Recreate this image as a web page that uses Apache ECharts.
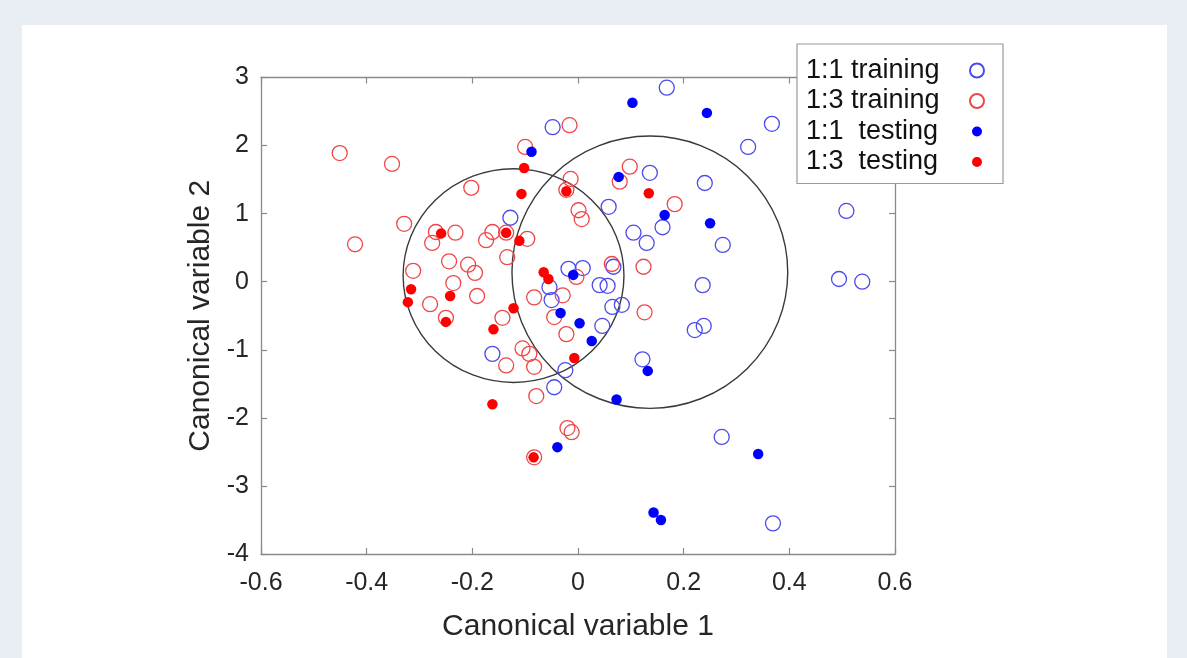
<!DOCTYPE html>
<html>
<head>
<meta charset="utf-8">
<script src="https://cdn.jsdelivr.net/npm/echarts@6/dist/echarts.min.js"></script>
<style>
  html, body { margin: 0; padding: 0; width: 1187px; height: 658px; overflow: hidden; background: #e8eef4; }
  #card { position: absolute; left: 22px; top: 25px; width: 1145px; height: 640px; background: #ffffff; }
  #chart { position: absolute; left: 0; top: 0; width: 1187px; height: 658px; }
</style>
</head>
<body>
<div id="card"></div>
<div id="chart"></div>
<script>
// ---- data (Canonical variable 1, Canonical variable 2) ----
const seriesNames = ['1:1 training', '1:3 training', '1:1  testing', '1:3  testing'];

const train11 = [
  [0.168, 2.85], [-0.048, 2.27], [0.367, 2.32], [0.322, 1.98], [0.136, 1.60],
  [0.058, 1.10], [0.240, 1.45], [0.105, 0.72], [0.130, 0.57], [0.160, 0.80],
  [0.274, 0.54], [-0.128, 0.94], [0.508, 1.04], [0.494, 0.04], [0.538, 0.00],
  [0.236, -0.05], [-0.018, 0.19], [0.009, 0.20], [0.067, 0.22], [0.041, -0.05],
  [0.056, -0.06], [-0.054, -0.08], [-0.050, -0.27], [0.065, -0.37], [0.083, -0.34],
  [0.046, -0.65], [0.221, -0.71], [0.238, -0.65], [0.122, -1.14], [-0.162, -1.06],
  [-0.024, -1.30], [-0.045, -1.55], [0.272, -2.28], [0.369, -3.55]
];

const train13 = [
  [-0.451, 1.89], [-0.352, 1.73], [-0.202, 1.38], [-0.329, 0.85], [-0.422, 0.55],
  [-0.269, 0.73], [-0.232, 0.72], [-0.276, 0.57], [-0.174, 0.61], [-0.162, 0.73],
  [-0.136, 0.72], [-0.096, 0.63], [-0.134, 0.36], [-0.312, 0.16], [-0.244, 0.30],
  [-0.208, 0.25], [-0.195, 0.13], [-0.236, -0.02], [-0.191, -0.21], [-0.280, -0.33],
  [-0.250, -0.53], [-0.143, -0.53], [-0.136, -1.23], [-0.105, -0.98], [-0.092, -1.06],
  [-0.083, -1.25], [-0.079, -1.68], [-0.100, 1.98], [-0.016, 2.30], [-0.014, 1.51],
  [-0.022, 1.35], [0.098, 1.69], [0.079, 1.47], [0.001, 1.05], [0.007, 0.92],
  [0.183, 1.14], [0.064, 0.26], [0.124, 0.22], [-0.029, -0.20], [-0.083, -0.23],
  [-0.003, 0.07], [-0.045, -0.52], [-0.022, -0.77], [0.126, -0.45], [-0.020, -2.15],
  [-0.012, -2.21], [-0.083, -2.58]
];

const test11 = [
  [0.103, 2.63], [0.244, 2.48], [-0.088, 1.91], [0.077, 1.54], [0.164, 0.98],
  [0.250, 0.86], [-0.009, 0.10], [-0.033, -0.46], [0.003, -0.61], [0.026, -0.87],
  [0.073, -1.73], [0.132, -1.31], [-0.039, -2.43], [0.341, -2.53], [0.143, -3.39],
  [0.157, -3.50]
];

const test13 = [
  [-0.102, 1.67], [-0.107, 1.29], [-0.259, 0.71], [-0.136, 0.72], [-0.111, 0.60],
  [0.134, 1.30], [-0.022, 1.33], [-0.065, 0.14], [-0.056, 0.04], [-0.316, -0.11],
  [-0.322, -0.30], [-0.242, -0.21], [-0.250, -0.59], [-0.122, -0.39], [-0.160, -0.70],
  [-0.007, -1.12], [-0.162, -1.80], [-0.084, -2.58]
];

// class circles: [centerX, centerY, radiusX, radiusY] in data units
const classCircles = [
  [-0.122, 0.09, 0.209, 1.57],
  [0.136, 0.14, 0.261, 2.00]
];

const xTicks = [-0.6, -0.4, -0.2, 0, 0.2, 0.4, 0.6];
const yTicks = [-4, -3, -2, -1, 0, 1, 2, 3];

// ---- styling ----
const FONT = "'Liberation Sans', Arial, sans-serif";
const AXIS_COLOR = '#8a8a8a';
const TEXT_COLOR = '#262626';
const BLUE_RING = '#4b4bee';
const RED_RING = '#ee4747';
const BLUE = '#0000ff';
const RED = '#ff0000';

const smallDot = 'path://M0,0M14,14M12,7A5,5,0,1,1,2,7A5,5,0,1,1,12,7Z';

function fmt(v) { return String(+v.toFixed(2)); }

const chart = echarts.init(document.getElementById('chart'), null, { renderer: 'canvas' });

const xBase = {
  min: xTicks[0], max: xTicks[xTicks.length - 1], interval: 0.2,
  splitLine: { show: false },
  axisLine: { show: true, onZero: false, lineStyle: { color: AXIS_COLOR, width: 1.3 } },
  axisTick: { show: true, inside: true, length: 6, lineStyle: { color: AXIS_COLOR, width: 1.2 } }
};
const yBase = {
  min: yTicks[0], max: yTicks[yTicks.length - 1], interval: 1,
  splitLine: { show: false },
  axisLine: { show: true, onZero: false, lineStyle: { color: AXIS_COLOR, width: 1.3 } },
  axisTick: { show: true, inside: true, length: 6, lineStyle: { color: AXIS_COLOR, width: 1.2 } }
};

const option = {
  backgroundColor: 'transparent',
  animation: false,
  textStyle: { fontFamily: FONT },
  grid: { left: 261, top: 77.5, right: 292, bottom: 104, containLabel: false },
  xAxis: [
    Object.assign({}, xBase, {
      type: 'value', position: 'bottom',
      name: 'Canonical variable 1', nameLocation: 'middle', nameGap: 58,
      nameTextStyle: { fontSize: 30, color: TEXT_COLOR, fontFamily: FONT },
      axisLabel: { show: true, margin: 17, fontSize: 25, color: TEXT_COLOR, fontFamily: FONT, formatter: fmt }
    }),
    Object.assign({}, xBase, { type: 'value', position: 'top', axisLabel: { show: false } })
  ],
  yAxis: [
    Object.assign({}, yBase, {
      type: 'value', position: 'left',
      name: 'Canonical variable 2', nameLocation: 'middle', nameGap: 41,
      nameTextStyle: { fontSize: 30, color: TEXT_COLOR, fontFamily: FONT },
      axisLabel: { show: true, margin: 12, fontSize: 25, color: TEXT_COLOR, fontFamily: FONT, formatter: fmt }
    }),
    Object.assign({}, yBase, { type: 'value', position: 'right', axisLabel: { show: false } })
  ],
  legend: {
    orient: 'vertical', left: 797, top: 44, align: 'right',
    padding: [13, 18, 8, 9], itemGap: 3.5,
    itemWidth: 14, itemHeight: 14,
    backgroundColor: '#ffffff', borderColor: '#9a9a9a', borderWidth: 1.2, borderRadius: 0,
    selectedMode: false,
    data: [
      { name: seriesNames[0], icon: 'circle' },
      { name: seriesNames[1], icon: 'circle' },
      { name: seriesNames[2], icon: smallDot },
      { name: seriesNames[3], icon: smallDot }
    ],
    formatter: function (n) { return '{t|' + n + '}'; },
    textStyle: {
      color: '#111111', fontSize: 27, fontFamily: FONT, lineHeight: 27,
      rich: { t: { width: 159, align: 'left', fontSize: 27, fontFamily: FONT, color: '#111111', lineHeight: 27 } }
    }
  },
  series: [
    {
      type: 'custom', name: 'circles', silent: true, clip: true, z: 1,
      xAxisIndex: 0, yAxisIndex: 0,
      data: classCircles,
      renderItem: function (params, api) {
        const c = api.coord([api.value(0), api.value(1)]);
        const s = api.size([api.value(2), api.value(3)]);
        return {
          type: 'path',
          shape: { pathData: 'M0,1A1,1,0,1,1,2,1A1,1,0,1,1,0,1Z', x: c[0] - s[0], y: c[1] - s[1], width: 2 * s[0], height: 2 * s[1], layout: 'cover' },
          style: { fill: 'none', stroke: '#3a3a3a', lineWidth: 1.4 }
        };
      }
    },
    {
      type: 'scatter', name: seriesNames[0], data: train11, symbol: 'circle', symbolSize: 15, z: 2,
      itemStyle: { color: 'rgba(0,0,0,0)', borderColor: BLUE_RING, borderWidth: 1.3, opacity: 1 }
    },
    {
      type: 'scatter', name: seriesNames[1], data: train13, symbol: 'circle', symbolSize: 15, z: 2,
      itemStyle: { color: 'rgba(0,0,0,0)', borderColor: RED_RING, borderWidth: 1.3, opacity: 1 }
    },
    {
      type: 'scatter', name: seriesNames[2], data: test11, symbol: 'circle', symbolSize: 10.5, z: 3,
      itemStyle: { color: BLUE, opacity: 1 }
    },
    {
      type: 'scatter', name: seriesNames[3], data: test13, symbol: 'circle', symbolSize: 10.5, z: 3,
      itemStyle: { color: RED, opacity: 1 }
    }
  ]
};

chart.setOption(option);
</script>
</body>
</html>
